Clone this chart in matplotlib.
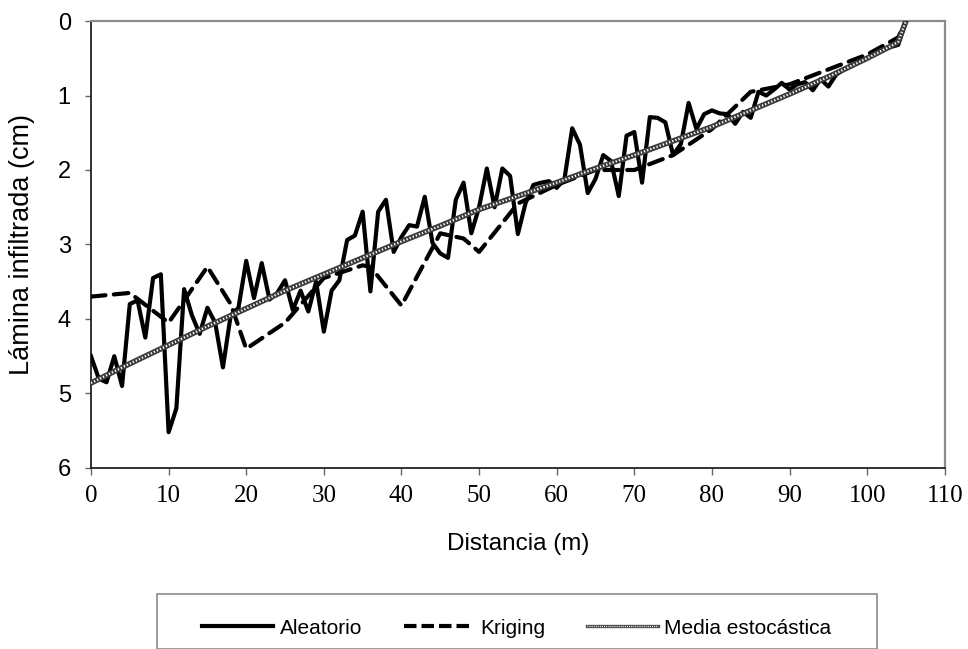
import numpy as np
import matplotlib
matplotlib.use("Agg")
import matplotlib.pyplot as plt
from matplotlib.lines import Line2D
from matplotlib.patches import Rectangle
from matplotlib.legend_handler import HandlerTuple

# lamina infiltrada a lo largo del surco, cada metro (aleatorio)
dist_aleatorio = np.arange(0, 106)
lamina_aleatorio = [
    4.50, 4.80, 4.85, 4.50, 4.90, 3.80, 3.75, 4.25, 3.45, 3.40,
    5.52, 5.20, 3.60, 3.95, 4.20, 3.85, 4.05, 4.65, 3.95, 3.85,
    3.22, 3.72, 3.25, 3.74, 3.65, 3.48, 3.88, 3.62, 3.90, 3.50,
    4.17, 3.62, 3.48, 2.94, 2.88, 2.56, 3.63, 2.56, 2.40, 3.10,
    2.90, 2.74, 2.76, 2.36, 2.98, 3.12, 3.18, 2.40, 2.17, 2.85,
    2.50, 1.98, 2.50, 1.98, 2.08, 2.86, 2.44, 2.20, 2.17, 2.15,
    2.24, 2.12, 1.44, 1.66, 2.31, 2.12, 1.80, 1.88, 2.35, 1.54,
    1.49, 2.17, 1.29, 1.30, 1.36, 1.80, 1.65, 1.10, 1.45, 1.25,
    1.20, 1.24, 1.25, 1.38, 1.22, 1.30, 0.95, 1.00, 0.92, 0.83,
    0.92, 0.85, 0.82, 0.93, 0.78, 0.88, 0.72, 0.65, 0.60, 0.55,
    0.50, 0.45, 0.38, 0.35, 0.32, 0.00,
]

# kriging
dist_kriging = [0, 5, 10, 15, 18, 20, 25, 30, 35, 36, 40, 45, 48, 50, 55,
                60, 65, 70, 75, 80, 85, 90, 95, 100, 104, 105]
lamina_kriging = [3.70, 3.65, 4.05, 3.30, 3.80, 4.40, 4.05, 3.45, 3.28, 3.30,
                  3.82, 2.85, 2.92, 3.10, 2.45, 2.20, 2.00, 2.00, 1.80, 1.45,
                  0.95, 0.85, 0.65, 0.45, 0.22, 0.00]

# media estocastica
dist_media = [0, 5, 10, 15, 20, 25, 30, 35, 40, 45, 50, 55, 60, 65, 70,
              75, 80, 85, 90, 95, 100, 103, 104, 105]
lamina_media = [4.86, 4.60, 4.35, 4.10, 3.86, 3.62, 3.40, 3.18, 2.96, 2.75,
                2.53, 2.35, 2.17, 1.98, 1.80, 1.61, 1.42, 1.20, 0.98, 0.75,
                0.50, 0.34, 0.28, 0.00]

fig = plt.figure(figsize=(9.68, 6.49), dpi=100)
ax = fig.add_axes([0.094, 0.279, 0.882, 0.6886])

ax.plot(dist_aleatorio, lamina_aleatorio, color="black", lw=3.0,
        solid_joinstyle="round", zorder=3)
ax.plot(dist_kriging, lamina_kriging, color="black", lw=3.0,
        linestyle=(0, (3.5, 2.0)), dash_capstyle="round", zorder=4)
# linea tramada: base oscura con puntos blancos encima
ax.plot(dist_media, lamina_media, color="#3a3a3a", lw=4.0, zorder=5,
        solid_capstyle="butt")
ax.plot(dist_media, lamina_media, color="white", lw=1.6,
        linestyle=(0, (0.6, 0.9)), zorder=6)

ax.set_xlim(0, 110)
ax.set_ylim(6, 0)
ax.set_xticks(range(0, 111, 10))
ax.set_yticks(range(0, 7))

for lab in ax.get_xticklabels():
    lab.set_fontfamily("Liberation Serif")
    lab.set_fontsize(18)
for lab in ax.get_yticklabels():
    lab.set_fontfamily("Liberation Sans")
    lab.set_fontsize(17)

ax.tick_params(axis="x", direction="out", length=5, width=1, color="#666666", pad=7)
ax.tick_params(axis="y", direction="out", length=4.5, width=1, color="#666666", pad=10)

for side in ("left", "bottom"):
    ax.spines[side].set_color("#222222")
    ax.spines[side].set_linewidth(1.3)
for side in ("top", "right"):
    ax.spines[side].set_color("#8c8c8c")
    ax.spines[side].set_linewidth(1.6)

ax.set_xlabel("Distancia (m)", fontfamily="Liberation Sans", fontsize=17.5)
ax.set_ylabel("Lámina infiltrada (cm)", fontfamily="Liberation Sans", fontsize=19.5)
ax.xaxis.set_label_coords(0.5, -0.145)
ax.yaxis.set_label_coords(-0.066, 0.5)

# caja de la leyenda (se corta en el borde inferior)
fig.patches.append(Rectangle((157 / 968, 0.0), 720 / 968, 49 / 649 + 0.01,
                             transform=fig.transFigure, facecolor="white",
                             edgecolor="#8c8c8c", lw=1.2, clip_on=False))

h_alea = Line2D([], [], color="black", lw=3.0)
h_krig = Line2D([], [], color="black", lw=3.0, linestyle=(0, (3.0, 1.2)))
h_media_base = Line2D([], [], color="#4a4a4a", lw=2.4)
h_media_dot = Line2D([], [], color="white", lw=1.0, linestyle=(0, (0.6, 0.9)))

fig.legend([h_alea, h_krig, (h_media_base, h_media_dot)],
           ["Aleatorio", "Kriging", "Media estocástica"],
           handler_map={tuple: HandlerTuple(ndivide=1, pad=0)},
           loc="center", bbox_to_anchor=(517 / 968, 1 - 628 / 649),
           ncol=3, frameon=False, handlelength=3.4, handletextpad=0.3,
           columnspacing=2.0, prop={"family": "Liberation Sans", "size": 15})

fig.savefig("out.png", dpi=100)
